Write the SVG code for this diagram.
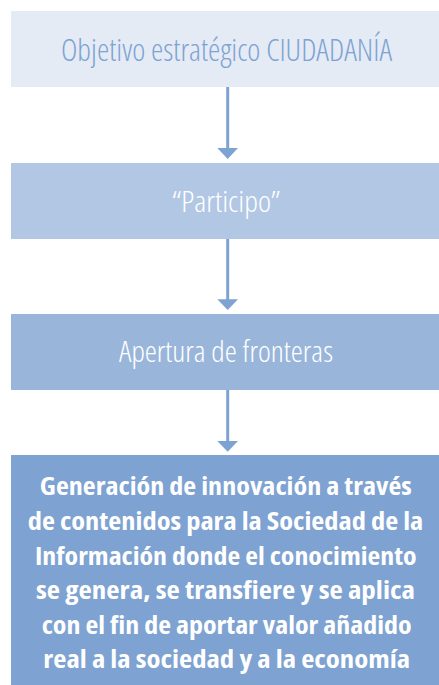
<svg xmlns="http://www.w3.org/2000/svg" width="439" height="685" viewBox="0 0 439 685">
<style>
.t{font-family:"Open Sans","DejaVu Sans Condensed","Liberation Sans",sans-serif;font-stretch:condensed;text-anchor:middle}
.l{font-weight:300}
.lt{font-size:29px}
.b{font-size:25px;font-weight:bold;fill:#ffffff}
.conn line{stroke:#7ea3d3;stroke-width:3}
.conn polygon{fill:#7ea3d3}
</style>
<rect width="439" height="685" fill="#ffffff"/>
<g id="node-objetivo">
<rect x="11" y="11" width="430" height="76" fill="#e4ebf5"/>
<text class="t l" x="226.5" y="60.5" font-size="30.5" fill="#7ea3d3" textLength="331" lengthAdjust="spacingAndGlyphs">Objetivo estratégico CIUDADANÍA</text>
</g>
<g id="node-participo">
<rect x="11" y="163" width="430" height="76" fill="#b1c7e4"/>
<text class="t l lt" x="226.2" y="211.7" fill="#ffffff" textLength="108" lengthAdjust="spacingAndGlyphs">“Participo”</text>
</g>
<g id="node-apertura">
<rect x="11" y="314" width="430" height="76" fill="#99b6da"/>
<text class="t l lt" x="226" y="362.3" fill="#ffffff" textLength="214" lengthAdjust="spacingAndGlyphs">Apertura de fronteras</text>
</g>
<g id="node-generacion">
<rect x="11" y="455" width="430" height="230" fill="#7ea2d1"/>
<text class="t b" x="225.8" y="495.3" textLength="372" lengthAdjust="spacingAndGlyphs">Generación de innovación a través</text>
<text class="t b" x="225.5" y="529.9" textLength="395.6" lengthAdjust="spacingAndGlyphs">de contenidos para la Sociedad de la</text>
<text class="t b" x="225.8" y="564.5" textLength="381.7" lengthAdjust="spacingAndGlyphs">Información donde el conocimiento</text>
<text class="t b" x="225.5" y="599.1" textLength="379" lengthAdjust="spacingAndGlyphs">se genera, se transfiere y se aplica</text>
<text class="t b" x="226.7" y="633.7" textLength="370" lengthAdjust="spacingAndGlyphs">con el fin de aportar valor añadido</text>
<text class="t b" x="226.7" y="668.3" textLength="366.7" lengthAdjust="spacingAndGlyphs">real a la sociedad y a la economía</text>
</g>
<g id="connectors" class="conn">
<line x1="227.7" y1="87" x2="227.7" y2="149"/>
<polygon points="217.3,148 238,148 227.7,159"/>
<line x1="227.7" y1="239" x2="227.7" y2="300"/>
<polygon points="217.3,299.3 238,299.3 227.7,310"/>
<line x1="227.7" y1="390" x2="227.7" y2="442"/>
<polygon points="217.3,441 238,441 227.7,451.7"/>
</g>
</svg>
